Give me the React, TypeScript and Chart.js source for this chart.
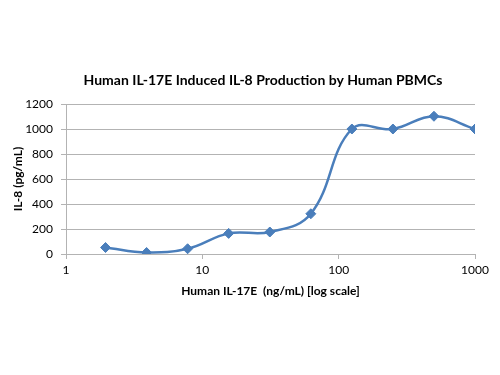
import React, { useEffect, useRef } from "react";
import { Chart, registerables } from "chart.js";

Chart.register(...registerables);

const concentrations = [1.95, 3.9, 7.8, 15.6, 31.25, 62.5, 125, 250, 500, 1000];
const il8Values = [52, 12, 42, 165, 176, 322, 1000, 1000, 1102, 1000];
const xTickValues = [1, 10, 100, 1000];
const chartTitle = "Human IL-17E Induced IL-8 Production by Human PBMCs";
const xTitle = "Human IL-17E  (ng/mL) [log scale]";
const yTitle = "IL-8 (pg/mL)";

const FONT = "Lato, 'Open Sans', sans-serif";
const GRID = "#b3b3b3";
const LINE = "#4a7ebb";

export default function App() {
  const ref = useRef<HTMLCanvasElement | null>(null);
  useEffect(() => {
    if (!ref.current) return;
    const titlePlugin = {
      id: "customTitle",
      afterDraw(chart: any) {
        const ctx = chart.ctx;
        ctx.save();
        ctx.font = `bold 14px ${FONT}`;
        ctx.fillStyle = "#000";
        ctx.textAlign = "center";
        ctx.textBaseline = "middle";
        ctx.fillText(chartTitle, 263, 80);
        ctx.restore();
      },
    };
    const chart = new Chart(ref.current, {
      type: "line",
      data: {
        datasets: [
          {
            data: concentrations.map((x, i) => ({ x, y: il8Values[i] })),
            borderColor: LINE,
            backgroundColor: LINE,
            borderWidth: 2.5,
            tension: 0.4,
            pointStyle: "rectRot",
            pointRadius: 5,
            pointBorderWidth: 1,
            pointBackgroundColor: LINE,
            pointBorderColor: LINE,
          },
        ],
      },
      options: {
        animation: false,
        responsive: false,
        layout: { padding: { top: 104, right: 25, left: 0, bottom: 0 } },
        plugins: { legend: { display: false }, title: { display: false }, tooltip: { enabled: false } },
        scales: {
          x: {
            type: "logarithmic",
            min: 1,
            max: 1000,
            afterBuildTicks: (s: any) => {
              s.ticks = xTickValues.map((v) => ({ value: v }));
            },
            afterFit: (s: any) => {
              s.height = 121;
            },
            ticks: {
              callback: (v: any) => String(v),
              font: { family: FONT, size: 12 },
              color: "#000",
              padding: 4,
              maxRotation: 0,
              autoSkip: false,
            },
            grid: { drawOnChartArea: false, drawTicks: true, tickLength: 5, color: GRID },
            border: { color: GRID, width: 1 },
            title: {
              display: true,
              text: xTitle,
              font: { family: FONT, size: 12, weight: "bold" },
              color: "#000",
              padding: { top: 0, bottom: 77 },
            },
          },
          y: {
            min: 0,
            max: 1200,
            afterFit: (s: any) => {
              s.width = 66;
            },
            ticks: {
              stepSize: 200,
              callback: (v: any) => String(v),
              font: { family: FONT, size: 12 },
              color: "#000",
              padding: 8,
            },
            grid: { color: GRID, tickLength: 5, lineWidth: 1 },
            border: { color: GRID, width: 1 },
            title: {
              display: true,
              text: yTitle,
              font: { family: FONT, size: 12, weight: "bold" },
              color: "#000",
              padding: { top: 11, bottom: 0 },
            },
          },
        },
      },
      plugins: [titlePlugin],
    } as any);
    return () => chart.destroy();
  }, []);
  return (
    <div style={{ position: "absolute", left: 0, top: 0, width: 500, height: 375, background: "#fff" }}>
      <canvas ref={ref} width={500} height={375} style={{ width: 500, height: 375 }} />
    </div>
  );
}
